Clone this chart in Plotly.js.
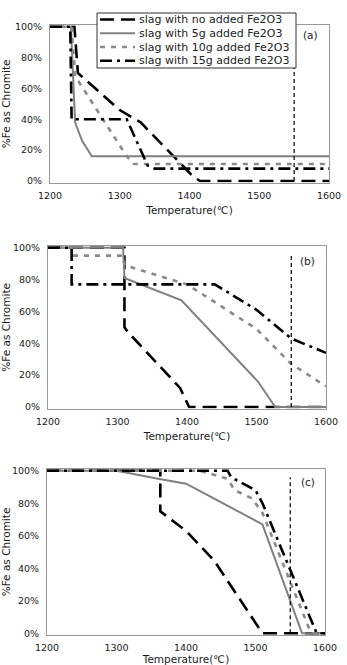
<!DOCTYPE html>
<html>
<head>
<meta charset="utf-8">
<script src="https://cdn.plot.ly/plotly-3.0.1.min.js"></script>
<style>html,body{margin:0;padding:0;background:#fff;}#chart{width:347px;height:665px;}</style>
</head>
<body>
<div id="chart"></div>
<script>
// ---------- data ----------
const seriesNames = ['slag with no added Fe2O3','slag with 5g added Fe2O3','slag with 10g added Fe2O3','slag with 15g added Fe2O3'];
const panelLabels = ['(a)','(b)','(c)'];
const xTitle = 'Temperature(℃)';
const yTitle = '%Fe as Chromite';
const xTicks = [1200,1300,1400,1500,1600];
const yTicks = [0,20,40,60,80,100];
const yTickLabels = ['0%','20%','40%','60%','80%','100%'];

// panel (a)
const a_noT  = [1200,1235,1240,1300,1330,1405,1415,1600];
const a_noY  = [100,100,70,46,38,3,0,0];
const a_5gT  = [1200,1230,1236,1246,1260,1600];
const a_5gY  = [100,100,38,26,16,16];
const a_10gT = [1200,1231,1236,1310,1320,1600];
const a_10gY = [100,100,68,16,11,11];
const a_15gT = [1200,1229,1231,1310,1340,1350,1600];
const a_15gY = [100,100,40,40,10,8,8];

// panel (b)
const b_noT  = [1200,1310,1310,1315,1390,1403,1600];
const b_noY  = [100,100,50,47,12,0,0];
const b_5gT  = [1200,1308,1310,1392,1502,1527,1600];
const b_5gY  = [100,100,81,67,16,0,0];
const b_10gT = [1200,1234,1234,1308,1310,1400,1500,1550,1600];
const b_10gY = [100,100,95,95,89,77,49,27,13];
const b_15gT = [1200,1234,1234,1440,1500,1550,1600];
const b_15gY = [100,100,77,77,61,43,34];

// panel (c)
const c_noT  = [1200,1363,1363,1400,1440,1490,1510,1600];
const c_noY  = [100,100,75,63,45,13,0,0];
const c_5gT  = [1200,1300,1360,1400,1440,1510,1567,1600];
const c_5gY  = [100,100,95,92,83,67,0,0];
const c_10gT = [1200,1420,1460,1470,1495,1510,1580,1600];
const c_10gY = [100,100,95,88,83,74,0,0];
const c_15gT = [1200,1460,1465,1500,1510,1588,1600];
const c_15gY = [100,100,96,88,80,0,0];

// reference temperature line
const refT = [1550,1550];
const refA = [0,100];
const refB = [0,96];
const refC = [0,96];

// ---------- styles ----------
const W = 347, H = 665;
const styles = [
  {color:'#000000', width:2.6, dash:'14px,7px'},
  {color:'#808080', width:2,   dash:'solid'},
  {color:'#8a8a8a', width:2.6, dash:'5px,6px'},
  {color:'#000000', width:2.6, dash:'12px,5px,3px,5px'}
];
const refStyle = {color:'#000000', width:1.2, dash:'4px,3px'};

const panels = [
  {T:[a_noT,a_5gT,a_10gT,a_15gT], Y:[a_noY,a_5gY,a_10gY,a_15gY], ref:refA, xa:'x',  ya:'y'},
  {T:[b_noT,b_5gT,b_10gT,b_15gT], Y:[b_noY,b_5gY,b_10gY,b_15gY], ref:refB, xa:'x2', ya:'y2'},
  {T:[c_noT,c_5gT,c_10gT,c_15gT], Y:[c_noY,c_5gY,c_10gY,c_15gY], ref:refC, xa:'x3', ya:'y3'}
];

const traces = [];
panels.forEach(p => {
  for (let i = 0; i < 4; i++) {
    traces.push({type:'scatter', mode:'lines', x:p.T[i], y:p.Y[i], xaxis:p.xa, yaxis:p.ya,
      name:seriesNames[i], showlegend:false, line:styles[i]});
  }
  traces.push({type:'scatter', mode:'lines', x:refT, y:p.ref, xaxis:p.xa, yaxis:p.ya,
    showlegend:false, line:refStyle});
});

// ---------- layout ----------
const tickFont = {family:'DejaVu Sans', size:9.5, color:'#1a1a1a'};
const titleFont = {family:'DejaVu Sans', size:10.5, color:'#1a1a1a'};
// pixel geometry of each plot area: [left, right, top(101), bottom(-1)]
const geom = [
  [50, 329, 25.2, 182.5],
  [48, 326, 246.1, 408.6],
  [47, 325, 469.1, 634.9]
];
function xa(g){
  return {domain:[g[0]/W, g[1]/W], range:[1200,1600], tickmode:'array', tickvals:xTicks, showline:true, mirror:true,
    linecolor:'#999', linewidth:1, ticks:'outside', ticklen:4, tickcolor:'rgba(0,0,0,0)',
    showgrid:false, zeroline:false, tickfont:tickFont, fixedrange:true,
    title:{text:xTitle, font:titleFont, standoff:6}};
}
function ya(g){
  return {domain:[1-g[3]/H, 1-g[2]/H], range:[-1,101], tickmode:'array', tickvals:yTicks, ticktext:yTickLabels,
    showline:true, mirror:true,
    linecolor:'#999', linewidth:1, ticks:'outside', ticklen:5, tickcolor:'rgba(0,0,0,0)',
    showgrid:false, zeroline:false, tickfont:tickFont, fixedrange:true,
    title:{text:yTitle, font:titleFont, standoff:3}};
}
const layout = {
  width:W, height:H, margin:{l:0,r:0,t:0,b:0}, paper_bgcolor:'#fff', plot_bgcolor:'#fff',
  showlegend:false,
  xaxis:Object.assign(xa(geom[0]),{anchor:'y'}),   yaxis:Object.assign(ya(geom[0]),{anchor:'x'}),
  xaxis2:Object.assign(xa(geom[1]),{anchor:'y2'}), yaxis2:Object.assign(ya(geom[1]),{anchor:'x2'}),
  xaxis3:Object.assign(xa(geom[2]),{anchor:'y3'}), yaxis3:Object.assign(ya(geom[2]),{anchor:'x3'}),
  shapes:[], annotations:[]
};

// panel labels
const labelPos = [[310,35],[307,261],[308,482]];
panelLabels.forEach((t,i)=>{
  layout.annotations.push({text:t, xref:'paper', yref:'paper', x:labelPos[i][0]/W, y:1-labelPos[i][1]/H,
    xanchor:'center', yanchor:'middle', showarrow:false, font:titleFont});
});

// manual legend for panel (a)
const lg = {x0:97, x1:296, y0:13, y1:68, rows:[19.5,33.3,47,60.7], s0:100, s1:135, tx:137};
layout.shapes.push({type:'rect', xref:'paper', yref:'paper', x0:lg.x0/W, x1:lg.x1/W, y0:1-lg.y1/H, y1:1-lg.y0/H,
  fillcolor:'#fff', line:{color:'#333', width:1}, layer:'above'});
seriesNames.forEach((n,i)=>{
  const yy = 1-lg.rows[i]/H;
  layout.shapes.push({type:'line', xref:'paper', yref:'paper', x0:lg.s0/W, x1:lg.s1/W, y0:yy, y1:yy,
    line:styles[i], layer:'above'});
  layout.annotations.push({text:n, xref:'paper', yref:'paper', x:lg.tx/W, y:yy, xanchor:'left', yanchor:'middle',
    showarrow:false, font:{family:'DejaVu Sans', size:11, color:'#222'}});
});

Plotly.newPlot('chart', traces, layout, {displayModeBar:false, staticPlot:true});
</script>
</body>
</html>
